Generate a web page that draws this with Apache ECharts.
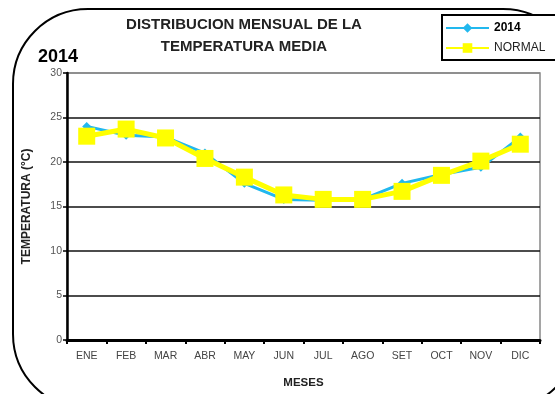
<!DOCTYPE html>
<html>
<head>
<meta charset="utf-8">
<script src="https://cdn.jsdelivr.net/npm/echarts@6/dist/echarts.min.js"></script>
<style>
  html, body { margin: 0; padding: 0; background: #fff; }
  #chart { width: 555px; height: 394px; }
</style>
</head>
<body>
<div id="chart"></div>
<script>
// Monthly mean temperature, 2014 vs. normal
const months = ['ENE', 'FEB', 'MAR', 'ABR', 'MAY', 'JUN', 'JUL', 'AGO', 'SET', 'OCT', 'NOV', 'DIC'];
const temp2014 = [24.0, 23.0, 22.8, 21.0, 17.6, 15.8, 15.7, 15.8, 17.6, 18.6, 19.4, 22.8];
const tempNormal = [22.9, 23.7, 22.7, 20.4, 18.3, 16.3, 15.8, 15.8, 16.7, 18.5, 20.1, 22.0];
const yTicks = [0, 5, 10, 15, 20, 25, 30];

const FONT = '"Liberation Sans", Arial, sans-serif';

const chart = echarts.init(document.getElementById('chart'), null, { renderer: 'canvas' });

chart.setOption({
  backgroundColor: '#ffffff',
  animation: false,
  textStyle: { fontFamily: FONT },
  graphic: [
    // rounded frame around the whole chart
    {
      type: 'rect', z: 0, silent: true,
      shape: { x: 13, y: 9, width: 565, height: 400, r: 75 },
      style: { fill: 'none', stroke: '#000', lineWidth: 2 }
    },
    // legend box
    {
      type: 'rect', z: 1, silent: true,
      shape: { x: 442, y: 15, width: 130, height: 45 },
      style: { fill: '#fff', stroke: '#000', lineWidth: 2 }
    },
    {
      type: 'text', z: 5, x: 244, y: 25,
      style: {
        text: 'DISTRIBUCION MENSUAL DE LA',
        textAlign: 'center', textVerticalAlign: 'middle',
        font: 'bold 15px ' + FONT, fill: '#222'
      }
    },
    {
      type: 'text', z: 5, x: 244, y: 47,
      style: {
        text: 'TEMPERATURA MEDIA',
        textAlign: 'center', textVerticalAlign: 'middle',
        font: 'bold 15px ' + FONT, fill: '#222'
      }
    },
    {
      type: 'text', z: 5, x: 38, y: 57,
      style: {
        text: '2014', textVerticalAlign: 'middle',
        font: 'bold 18px ' + FONT, fill: '#000'
      }
    }
  ],
  legend: {
    orient: 'vertical',
    left: 445, top: 22,
    padding: 0,
    itemWidth: 43, itemHeight: 12,
    itemGap: 8,
    z: 10,
    textStyle: {
      rich: {
        b: { fontFamily: FONT, fontWeight: 'bold', fontSize: 12, color: '#000' },
        n: { fontFamily: FONT, fontSize: 12, color: '#222' }
      }
    },
    formatter: function (name) {
      return name === '2014' ? '{b|2014}' : '{n|NORMAL}';
    },
    data: ['2014', 'NORMAL']
  },
  grid: {
    left: 67, right: 15, top: 73, bottom: 43,
    show: true, borderColor: '#888', borderWidth: 1.5
  },
  xAxis: {
    type: 'category',
    data: months,
    boundaryGap: true,
    axisLine: { lineStyle: { color: '#000', width: 3 } },
    axisTick: { show: true, length: 4, alignWithLabel: false, lineStyle: { color: '#000', width: 2 } },
    axisLabel: { color: '#444', fontSize: 10.5, margin: 11, fontFamily: FONT },
    name: 'MESES',
    nameLocation: 'middle',
    nameGap: 37,
    nameTextStyle: { fontWeight: 'bold', fontSize: 11.5, color: '#222', fontFamily: FONT }
  },
  yAxis: {
    type: 'value',
    min: yTicks[0], max: yTicks[yTicks.length - 1], interval: 5,
    axisLine: { show: true, lineStyle: { color: '#000', width: 2.5 } },
    axisTick: { show: true, length: 4, lineStyle: { color: '#000', width: 1.5 } },
    axisLabel: { color: '#555', fontSize: 10.5, margin: 5, fontFamily: FONT },
    splitLine: {
      show: true,
      lineStyle: { color: ['#111', '#111', '#111', '#111', '#111', '#111', '#888'], width: 1.5 }
    },
    name: 'TEMPERATURA (°C)',
    nameLocation: 'middle',
    nameGap: 34,
    nameTextStyle: { fontWeight: 'bold', fontSize: 12, color: '#222', fontFamily: FONT }
  },
  series: [
    {
      name: '2014',
      type: 'line',
      data: temp2014,
      color: '#22b8ee',
      symbol: 'diamond',
      symbolSize: 9,
      lineStyle: { width: 3, color: '#22b8ee' },
      itemStyle: { color: '#22b8ee' },
      z: 3
    },
    {
      name: 'NORMAL',
      type: 'line',
      data: tempNormal,
      color: '#ffff00',
      symbol: 'rect',
      symbolSize: 17,
      lineStyle: { width: 5, color: '#ffff00' },
      itemStyle: { color: '#ffff00' },
      z: 4
    }
  ]
});
</script>
</body>
</html>
